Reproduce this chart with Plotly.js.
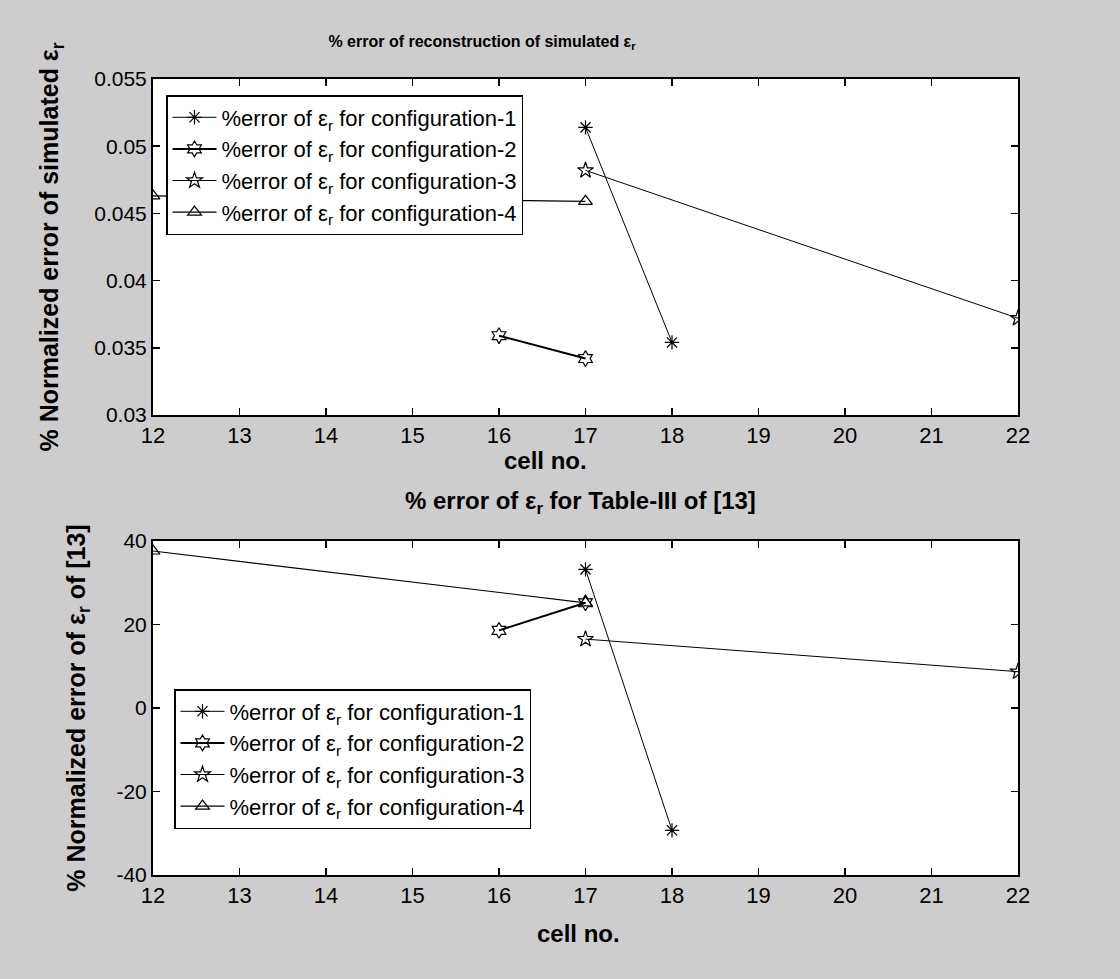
<!DOCTYPE html>
<html>
<head>
<meta charset="utf-8">
<script src="https://cdn.plot.ly/plotly-3.0.1.min.js"></script>
<style>
  html, body { margin: 0; padding: 0; background: #cdcdcd; }
  #chart { width: 1120px; height: 979px; }
</style>
</head>
<body>
<div id="chart"></div>
<script>
// ---- data ----
const seriesNames = [
  "%error of ε<sub>r</sub> for configuration-1",
  "%error of ε<sub>r</sub> for configuration-2",
  "%error of ε<sub>r</sub> for configuration-3",
  "%error of ε<sub>r</sub> for configuration-4"
];
const cells1 = [17, 18];
const cells2 = [16, 17];
const cells3 = [17, 22];
const cells4 = [12, 17];

// top panel: % error of reconstruction of simulated εr
const simConfig1 = [0.0514, 0.0354];
const simConfig2 = [0.0359, 0.0342];
const simConfig3 = [0.0482, 0.0372];
const simConfig4 = [0.0463, 0.0459];

// bottom panel: % error of εr for Table-III of [13]
const refConfig1 = [33.2, -29.3];
const refConfig2 = [18.6, 25.2];
const refConfig3 = [16.5, 8.7];
const refConfig4 = [37.6, 25.2];

const xTicks = [12, 13, 14, 15, 16, 17, 18, 19, 20, 21, 22];
const topYTicks = [0.03, 0.035, 0.04, 0.045, 0.05, 0.055];
const topYTickText = ["0.03", "0.035", "0.04", "0.045", "0.05", "0.055"];
const botYTicks = [-40, -20, 0, 20, 40];
const botYTickText = ["-40", "-20", "0", "20", "40"];

// ---- styling ----
const FONT = "Liberation Sans, Arial, sans-serif";
const symbols = ["asterisk-open", "hexagram-open", "star-open", "triangle-up-open"];
const widths = [1, 2, 1, 1.2];

const cellsList = [cells1, cells2, cells3, cells4];
const simList = [simConfig1, simConfig2, simConfig3, simConfig4];
const refList = [refConfig1, refConfig2, refConfig3, refConfig4];

const traces = [];
for (let i = 0; i < 4; i++) {
  traces.push({
    x: cellsList[i], y: simList[i], xaxis: "x", yaxis: "y",
    type: "scatter", mode: "lines+markers", name: seriesNames[i],
    legend: "legend",
    line: {color: "black", width: widths[i]},
    marker: {symbol: symbols[i], size: 12, color: "black",
             line: {color: "black", width: 1.2}}
  });
}
for (let i = 0; i < 4; i++) {
  traces.push({
    x: cellsList[i], y: refList[i], xaxis: "x2", yaxis: "y2",
    type: "scatter", mode: "lines+markers", name: seriesNames[i],
    legend: "legend2",
    line: {color: "black", width: widths[i]},
    marker: {symbol: symbols[i], size: 12, color: "black",
             line: {color: "black", width: 1.2}}
  });
}

const W = 1120, H = 979;
const L = 153, R = 102;
const PW = W - L - R;
const frameTop1 = 79, frameBot1 = 415, frameTop2 = 541, frameBot2 = 875;

function px(xPix) { return (xPix - L) / PW; }
function py(yPix) { return 1 - yPix / H; }

function xAxis(anchor) {
  return {
    anchor: anchor, range: [12, 22], tickvals: xTicks,
    ticks: "inside", ticklen: 7, tickwidth: 1.5, tickcolor: "black",
    showline: true, linecolor: "black", linewidth: 2, mirror: "ticks",
    showgrid: false, zeroline: false,
    tickfont: {family: FONT, size: 22, color: "black"}
  };
}

function yAxisCommon() {
  return {
    ticks: "inside", ticklen: 7, tickwidth: 1.5, tickcolor: "black",
    showline: true, linecolor: "black", linewidth: 2, mirror: "ticks",
    showgrid: false, zeroline: false,
    tickfont: {family: FONT, size: 21, color: "black"}
  };
}

const layout = {
  width: W, height: H,
  paper_bgcolor: "#cdcdcd",
  plot_bgcolor: "white",
  margin: {l: L, r: R, t: 0, b: 0},
  showlegend: true,
  title: {
    text: "<b>% error of reconstruction of simulated ε<sub>r</sub></b>",
    font: {family: FONT, size: 16, color: "black"},
    x: 482 / W, xanchor: "center", y: py(41), yanchor: "middle"
  },
  xaxis: xAxis("y"),
  xaxis2: xAxis("y2"),
  yaxis: Object.assign(yAxisCommon(), {
    domain: [py(frameBot1), py(frameTop1)],
    range: [0.03, 0.055], tickvals: topYTicks, ticktext: topYTickText,
    title: {text: "<b>% Normalized error of simulated ε<sub>r</sub></b>",
            font: {family: FONT, size: 25, color: "black"}, standoff: 28}
  }),
  yaxis2: Object.assign(yAxisCommon(), {
    domain: [py(frameBot2), py(frameTop2)],
    range: [-40, 40], tickvals: botYTicks, ticktext: botYTickText,
    title: {text: "<b>% Normalized error of ε<sub>r</sub> of [13]</b>",
            font: {family: FONT, size: 25, color: "black"}, standoff: 24}
  }),
  legend: {
    x: px(166), xanchor: "left",
    y: py(95), yanchor: "top",
    bgcolor: "white", bordercolor: "black", borderwidth: 1.5,
    font: {family: FONT, size: 22, color: "black"},
    itemwidth: 44, tracegroupgap: 0
  },
  legend2: {
    x: px(174), xanchor: "left",
    y: py(689), yanchor: "top",
    bgcolor: "white", bordercolor: "black", borderwidth: 1.5,
    font: {family: FONT, size: 22, color: "black"},
    itemwidth: 44, tracegroupgap: 0
  },
  annotations: [
    {
      text: "<b>cell no.</b>", xref: "paper", yref: "paper",
      x: px(545), xanchor: "center", y: py(460), yanchor: "middle",
      showarrow: false, font: {family: FONT, size: 24, color: "black"}
    },
    {
      text: "<b>% error of ε<sub>r</sub> for Table-III of [13]</b>",
      xref: "paper", yref: "paper",
      x: px(580), xanchor: "center", y: py(502), yanchor: "middle",
      showarrow: false, font: {family: FONT, size: 24, color: "black"}
    },
    {
      text: "<b>cell no.</b>", xref: "paper", yref: "paper",
      x: px(578), xanchor: "center", y: py(933), yanchor: "middle",
      showarrow: false, font: {family: FONT, size: 24, color: "black"}
    }
  ]
};

Plotly.newPlot("chart", traces, layout, {displayModeBar: false, staticPlot: true});
</script>
</body>
</html>
